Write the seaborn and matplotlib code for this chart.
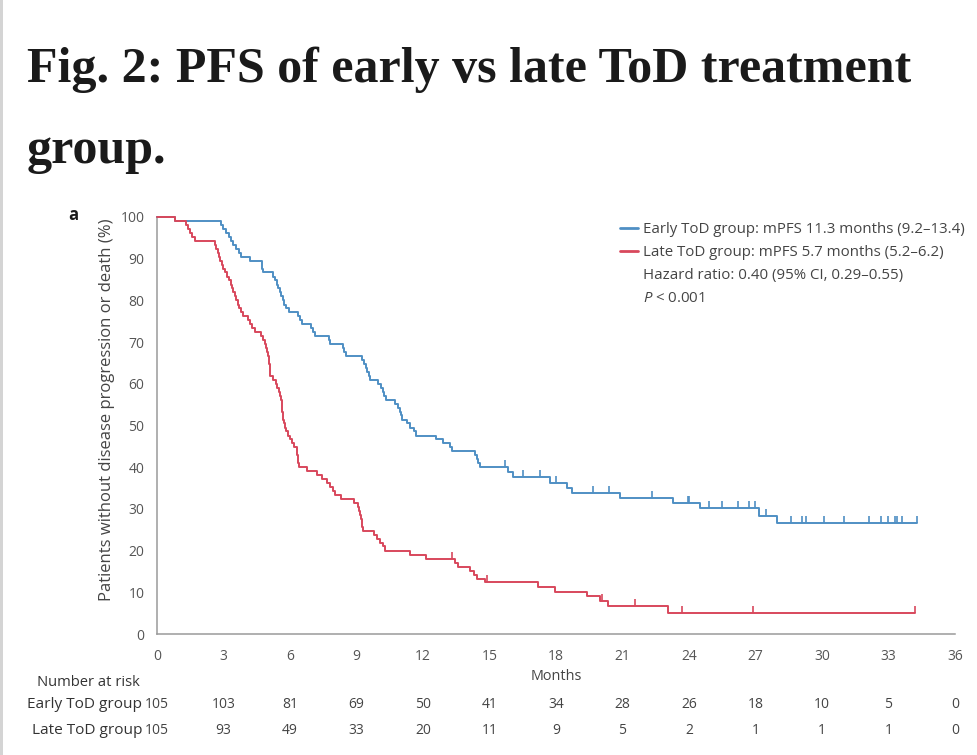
import numpy as np
import pandas as pd
import matplotlib
matplotlib.use("Agg")
import matplotlib.pyplot as plt
import seaborn as sns
from matplotlib.lines import Line2D
from matplotlib.path import Path
from matplotlib.patches import Rectangle
from matplotlib.transforms import blended_transform_factory

# ---------------- data ----------------
early_months = [0, 0.8, 2.9, 3.0, 3.12, 3.25, 3.35, 3.45, 3.58, 3.7, 3.8, 4.2, 4.75, 4.8,
                5.25, 5.32, 5.4, 5.47, 5.54, 5.6, 5.68, 5.75, 5.82, 5.95,
                6.38, 6.45, 6.52, 6.95, 7.05, 7.12, 7.75, 7.82, 8.4, 8.45, 8.52,
                9.25, 9.35, 9.42, 9.48, 9.55, 9.62, 9.98, 10.1, 10.18, 10.25, 10.32,
                10.75, 10.85, 10.95, 11.0, 11.06, 11.3, 11.4, 11.6, 11.7, 12.6, 12.9,
                13.2, 13.3, 14.35, 14.45, 14.5, 14.56, 15.85, 16.06, 17.73, 18.48, 18.7,
                20.88, 23.29, 24.49, 27.17, 27.95, 34.27]
early_surv = [100, 99.0, 98.1, 97.1, 96.2, 95.2, 94.3, 93.3, 92.4, 91.4, 90.5, 89.5, 87.6, 86.7,
              85.7, 84.8, 83.8, 82.9, 81.9, 81.0, 80.0, 79.0, 78.1, 77.1,
              76.2, 75.2, 74.3, 73.3, 72.4, 71.4, 70.5, 69.5, 68.6, 67.6, 66.7,
              65.7, 64.8, 63.8, 62.9, 61.9, 61.0, 60.0, 59.0, 58.1, 57.1, 56.2,
              55.2, 54.3, 53.3, 52.4, 51.4, 50.5, 49.5, 48.6, 47.6, 46.7, 45.7,
              44.8, 43.8, 42.9, 41.9, 41.0, 40.0, 38.9, 37.6, 36.3, 35.0, 33.9,
              32.7, 31.5, 30.1, 28.4, 26.5, 26.5]

late_months = [0, 0.8, 1.31, 1.41, 1.49, 1.6, 1.71, 2.6, 2.68, 2.74, 2.8, 2.86, 2.92, 3.0,
               3.08, 3.15, 3.25, 3.32, 3.37, 3.44, 3.5, 3.58, 3.66, 3.72, 3.78, 3.88,
               4.1, 4.2, 4.3, 4.42, 4.7, 4.8, 4.87, 4.93, 4.98, 5.02, 5.04, 5.06, 5.08,
               5.1, 5.12, 5.25, 5.35, 5.42, 5.52, 5.56, 5.6, 5.62, 5.64, 5.66, 5.68, 5.7,
               5.74, 5.77, 5.8, 5.92, 6.0, 6.07, 6.2, 6.3, 6.33, 6.35, 6.37, 6.4, 6.75,
               7.2, 7.45, 7.65, 7.8, 7.95, 8.05, 8.3, 8.9, 9.05, 9.12, 9.16, 9.2, 9.23,
               9.26, 9.3, 9.8, 9.92, 10.05, 10.2, 10.3, 11.4, 12.15, 13.45, 13.6, 14.1,
               14.3, 14.45, 14.8, 17.2, 17.95, 19.4, 20.0, 20.36, 23.06, 34.19]
late_surv = [100, 99.0, 98.1, 97.1, 96.2, 95.2, 94.3, 93.3, 92.4, 91.4, 90.5, 89.5, 88.6, 87.6,
             86.7, 85.7, 84.8, 83.8, 82.9, 81.9, 81.0, 80.0, 79.0, 78.1, 77.1, 76.2,
             75.2, 74.3, 73.3, 72.4, 71.4, 70.5, 69.5, 68.6, 67.6, 66.7, 65.7, 64.8, 63.8,
             62.9, 61.9, 61.0, 60.0, 59.0, 58.1, 57.1, 56.2, 55.2, 54.3, 53.3, 52.4, 51.4,
             50.5, 49.5, 48.6, 47.6, 46.7, 45.7, 44.8, 43.8, 42.9, 41.9, 41.0, 40.0, 39.0,
             38.1, 37.1, 36.2, 35.2, 34.3, 33.3, 32.4, 31.4, 30.5, 29.5, 28.6, 27.6, 26.7,
             25.7, 24.8, 23.8, 22.9, 21.9, 21.0, 20.0, 19.0, 18.1, 17.0, 16.0, 15.0,
             14.1, 13.2, 12.4, 11.3, 10.1, 9.0, 7.9, 6.8, 5.1, 5.1]

early_censor_months = [15.7, 16.5, 17.28, 17.99, 19.67, 20.39, 22.31, 23.94, 24.0, 24.9, 25.5,
                       26.19, 26.69, 26.99, 27.47, 28.58, 29.11, 29.26, 30.08, 30.99, 32.1,
                       32.67, 32.99, 33.29, 33.39, 33.59, 34.27]
early_censor_surv = [40.0, 37.6, 37.6, 36.3, 33.9, 33.9, 32.7, 31.5, 31.5, 30.1, 30.1,
                     30.1, 30.1, 30.1, 28.4, 26.5, 26.5, 26.5, 26.5, 26.5, 26.5,
                     26.5, 26.5, 26.5, 26.5, 26.5, 26.5]
late_censor_months = [13.29, 14.87, 20.06, 21.56, 23.69, 26.9, 34.19]
late_censor_surv = [18.1, 12.4, 7.9, 6.8, 5.1, 5.1, 5.1]

risk_months = [0, 3, 6, 9, 12, 15, 18, 21, 24, 27, 30, 33, 36]
early_at_risk = [105, 103, 81, 69, 50, 41, 34, 28, 26, 18, 10, 5, 0]
late_at_risk = [105, 93, 49, 33, 20, 11, 9, 5, 2, 1, 1, 1, 0]

group_names = ["Early ToD group", "Late ToD group"]
legend_labels = ["Early ToD group: mPFS 11.3 months (9.2\u201313.4)",
                 "Late ToD group: mPFS 5.7 months (5.2\u20136.2)",
                 "Hazard ratio: 0.40 (95% CI, 0.29\u20130.55)",
                 "$P$ < 0.001"]
title_lines = ["Fig. 2: PFS of early vs late ToD treatment", "group."]

BLUE = "#4f8fc4"
RED = "#d8485c"

# ---------------- style ----------------
sns.set_theme(style="white")
plt.rcParams["font.family"] = ["Open Sans", "DejaVu Sans"]
plt.rcParams["mathtext.fontset"] = "custom"
plt.rcParams["mathtext.it"] = "Open Sans:italic"
plt.rcParams["mathtext.rm"] = "Open Sans"

W, H = 978, 755
fig = plt.figure(figsize=(W / 100, H / 100), dpi=100)
fig.patch.set_facecolor("white")

def fx(px):
    return px / W

def fy(py):
    return 1 - py / H

ax = fig.add_axes([fx(157), fy(634), fx(955) - fx(157), fy(217) - fy(634)])

df = pd.concat([
    pd.DataFrame({"month": early_months, "surv": early_surv, "group": group_names[0]}),
    pd.DataFrame({"month": late_months, "surv": late_surv, "group": group_names[1]}),
])
sns.lineplot(data=df, x="month", y="surv", hue="group",
             palette={group_names[0]: BLUE, group_names[1]: RED},
             estimator=None, sort=False, drawstyle="steps-post",
             linewidth=1.4, legend=False, ax=ax, clip_on=False, zorder=3)

tick_marker = Path([(0, 0), (0, 1)])
ax.plot(early_censor_months, early_censor_surv, linestyle="none", marker=tick_marker,
        markersize=10, markeredgewidth=1.2, color=BLUE, clip_on=False, zorder=3)
ax.plot(late_censor_months, late_censor_surv, linestyle="none", marker=tick_marker,
        markersize=10, markeredgewidth=1.2, color=RED, clip_on=False, zorder=3)

ax.set_xlim(0, 36)
ax.set_ylim(0, 100)
ax.set_xticks(risk_months)
ax.set_xticks(range(0, 37), minor=True)
ax.set_yticks(range(0, 101, 10))
ax.set_xlabel("")
ax.set_ylabel("")
for s in ["top", "right"]:
    ax.spines[s].set_visible(False)
for s in ["left", "bottom"]:
    ax.spines[s].set_color("#9a9a9a")
    ax.spines[s].set_linewidth(1.1)
ax.tick_params(axis="both", which="major", direction="out", length=5, width=1.0,
               color="#9a9a9a", labelcolor="#555555", labelsize=10, pad=4)
ax.tick_params(axis="x", which="minor", direction="out", length=3, width=0.9,
               color="#9a9a9a")
ax.tick_params(axis="x", which="major", pad=6)
ax.grid(False)

fig.text(fx(107), fy(410), "Patients without disease progression or death (%)",
         rotation=90, ha="center", va="center", fontsize=12, color="#444444")
fig.text(fx(556), fy(676), "Months", ha="center", va="center", fontsize=10.4, color="#444444")

# legend
handles = [Line2D([], [], color=BLUE, lw=2.0), Line2D([], [], color=RED, lw=2.0),
           Line2D([], [], color="none"), Line2D([], [], color="none")]
leg = ax.legend(handles, legend_labels, loc="upper left",
                bbox_to_anchor=(fx(620), fy(222)), bbox_transform=fig.transFigure,
                frameon=False, fontsize=10.8, borderpad=0, borderaxespad=0,
                handlelength=1.2, handletextpad=0.33, labelspacing=0.53)
for t in leg.get_texts():
    t.set_color("#444444")

# number at risk table
tr = blended_transform_factory(ax.transData, fig.transFigure)
fig.text(fx(88), fy(683), "Number at risk", ha="center", va="center", fontsize=10.6, color="#333333")
for name, vals, ypx in [(group_names[0], early_at_risk, 705), (group_names[1], late_at_risk, 730)]:
    fig.text(fx(142), fy(ypx), name, ha="right", va="center", fontsize=11.1, color="#333333")
    for m, v in zip(risk_months, vals):
        ax.text(m, fy(ypx), str(v), transform=tr, ha="center", va="center",
                fontsize=10, color="#444444")

# title and panel label
fig.text(fx(27), fy(82), title_lines[0], ha="left", va="baseline", fontsize=36,
         fontweight="bold", family=["Liberation Serif", "DejaVu Serif"], color="#1a1a1a")
fig.text(fx(27), fy(163), title_lines[1], ha="left", va="baseline", fontsize=36,
         fontweight="bold", family=["Liberation Serif", "DejaVu Serif"], color="#1a1a1a")
fig.text(fx(68), fy(215), "a", ha="left", va="center", fontsize=12, fontweight="bold",
         color="#1a1a1a")

fig.patches.append(Rectangle((0, 0), fx(3), 1, transform=fig.transFigure,
                             facecolor="#d4d4d4", edgecolor="none"))

fig.savefig("out.png", dpi=100)
